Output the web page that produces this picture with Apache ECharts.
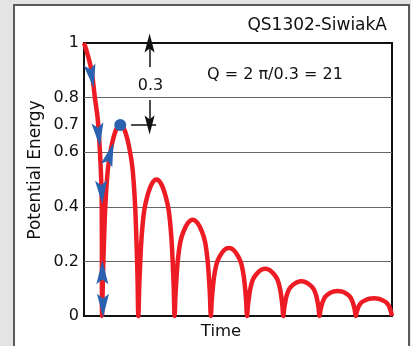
<!DOCTYPE html>
<html>
<head>
<meta charset="utf-8">
<script src="https://cdn.jsdelivr.net/npm/echarts@6/dist/echarts.min.js"></script>
<style>
html, body { margin: 0; padding: 0; background: #e4e4e4; overflow: hidden; }
#panel { position: absolute; left: 13px; top: 4px; width: 393px; height: 360px; background: #fff; border: 2px solid #5a5a5a; }
#chart { position: absolute; left: 0; top: 0; width: 411px; height: 346px; }
</style>
</head>
<body>
<div id="panel"></div>
<div id="chart"></div>
<script>
// time along x, potential energy along y, one row per bounce
var time = [
	0, 0.1, 0.21, 0.3, 0.38, 0.44, 0.475, 0.49, 0.5,
	0.525, 0.55, 0.59, 0.66, 0.75, 0.875, 1, 1.125, 1.25, 1.34, 1.41, 1.45, 1.475, 1.5,
	1.525, 1.55, 1.59, 1.66, 1.75, 1.875, 2, 2.125, 2.25, 2.34, 2.41, 2.45, 2.475, 2.5,
	2.525, 2.55, 2.59, 2.66, 2.75, 2.875, 3, 3.125, 3.25, 3.34, 3.41, 3.45, 3.475, 3.5,
	3.525, 3.55, 3.59, 3.66, 3.75, 3.875, 4, 4.125, 4.25, 4.34, 4.41, 4.45, 4.475, 4.5,
	4.525, 4.55, 4.59, 4.66, 4.75, 4.875, 5, 5.125, 5.25, 5.34, 5.41, 5.45, 5.475, 5.5,
	5.525, 5.55, 5.59, 5.66, 5.75, 5.875, 6, 6.125, 6.25, 6.34, 6.41, 6.45, 6.475, 6.5,
	6.525, 6.55, 6.59, 6.66, 6.75, 6.875, 7, 7.125, 7.25, 7.34, 7.41, 7.45, 7.475, 7.5,
	7.525, 7.55, 7.59, 7.66, 7.75, 7.875, 8, 8.125, 8.25, 8.34, 8.41, 8.45, 8.475, 8.5
];
var energy = [
	1, 0.958, 0.897, 0.8, 0.72, 0.6, 0.5, 0.4, 0,
	0.154, 0.266, 0.406, 0.539, 0.616, 0.679, 0.7, 0.679, 0.616, 0.539, 0.406, 0.266, 0.154, 0,
	0.11, 0.19, 0.29, 0.385, 0.44, 0.485, 0.5, 0.485, 0.44, 0.385, 0.29, 0.19, 0.11, 0,
	0.078, 0.134, 0.205, 0.272, 0.311, 0.342, 0.353, 0.342, 0.311, 0.272, 0.205, 0.134, 0.078, 0,
	0.055, 0.095, 0.144, 0.192, 0.219, 0.242, 0.249, 0.242, 0.219, 0.192, 0.144, 0.095, 0.055, 0,
	0.038, 0.066, 0.1, 0.133, 0.152, 0.168, 0.173, 0.168, 0.152, 0.133, 0.1, 0.066, 0.038, 0,
	0.028, 0.048, 0.074, 0.098, 0.112, 0.123, 0.127, 0.123, 0.112, 0.098, 0.074, 0.048, 0.028, 0,
	0.02, 0.035, 0.053, 0.071, 0.081, 0.089, 0.092, 0.089, 0.081, 0.071, 0.053, 0.035, 0.02, 0,
	0.014, 0.025, 0.038, 0.05, 0.057, 0.063, 0.065, 0.063, 0.057, 0.05, 0.038, 0.025, 0.014, 0
];

// blue direction arrows on the first bounce
var arrowT = [0.21, 0.405, 0.718, 0.488, 0.506, 0.524];
var arrowE = [0.878, 0.664, 0.593, 0.453, 0.16, 0.038];
var arrowAngle = [190, 186, -17, 183, 0, 180];
var peakDot = [1, 0.7];

// 0.3 dimension marker
var dimT = 1.81;
var dimTop = [0.912, 1];
var dimBottom = [0.791, 0.7];
var dimTick = [1.3, 1.99];

var yLabels = [0, 0.2, 0.4, 0.6, 0.7, 0.8, 1];
var gridValues = [0.2, 0.4, 0.6, 0.8];

var FONT = 'DejaVu Sans';
var ARROW = 'path://M5,0L10,22L5,17.5L0,22Z';

var curve = [];
for (var i = 0; i < time.length; i++) {
	curve.push([time[i], energy[i]]);
}
var arrows = [];
for (var j = 0; j < arrowT.length; j++) {
	arrows.push({ value: [arrowT[j], arrowE[j]], symbolRotate: arrowAngle[j] });
}
var splitColors = [];
for (var k = 0; k <= 10; k++) {
	splitColors.push(gridValues.indexOf(k / 10) >= 0 ? '#666' : 'rgba(0,0,0,0)');
}

var option = {
	animation: false,
	grid: {
		left: 84, right: 19, top: 43, bottom: 30,
		show: true,
		borderColor: '#111',
		borderWidth: 2,
		backgroundColor: 'rgba(0,0,0,0)'
	},
	xAxis: {
		type: 'value', min: 0, max: 8.5,
		axisLine: { show: false },
		axisTick: { show: false },
		axisLabel: { show: false },
		splitLine: { show: false }
	},
	yAxis: {
		type: 'value', min: 0, max: 1, interval: 0.1,
		axisLine: { show: false },
		axisTick: { show: false },
		axisLabel: {
			margin: 5,
			fontSize: 16,
			fontFamily: FONT,
			color: '#111',
			formatter: function (v) {
				var r = Math.round(v * 10) / 10;
				return yLabels.indexOf(r) >= 0 ? String(r) : '';
			}
		},
		splitLine: { show: true, lineStyle: { color: splitColors, width: 1 } }
	},
	series: [
		{
			type: 'line',
			data: curve,
			showSymbol: false,
			smooth: 0.35,
			clip: false,
			z: 3,
			lineStyle: { color: '#ed1c24', width: 4.5 }
		},
		{
			type: 'scatter',
			data: arrows,
			symbol: ARROW,
			symbolSize: [12, 24],
			z: 5,
			itemStyle: { color: '#2a62b0', opacity: 1 }
		},
		{
			type: 'scatter',
			data: [peakDot],
			symbol: 'circle',
			symbolSize: 12,
			z: 5,
			itemStyle: { color: '#2a62b0', opacity: 1 },
			markLine: {
				silent: true,
				symbol: ['none', ARROW],
				symbolSize: [10, 19],
				label: { show: false },
				lineStyle: { color: '#111', width: 1.5, type: 'solid' },
				data: [
					[{ coord: [dimT, dimTop[0]] }, { coord: [dimT, dimTop[1]] }],
					[{ coord: [dimT, dimBottom[0]] }, { coord: [dimT, dimBottom[1]] }],
					[{ coord: [dimTick[0], 0.7], symbol: 'none' }, { coord: [dimTick[1], 0.7], symbol: 'none' }]
				]
			}
		}
	],
	graphic: [
		{ type: 'text', x: 387, y: 26, style: { text: 'QS1302-SiwiakA', font: '17px "DejaVu Sans"', fill: '#111', align: 'right', verticalAlign: 'middle' } },
		{ type: 'text', x: 207, y: 75, style: { text: 'Q = 2 \u03c0/0.3 = 21', font: '16px "DejaVu Sans"', fill: '#111', align: 'left', verticalAlign: 'middle' } },
		{ type: 'text', x: 150.5, y: 86, style: { text: '0.3', font: '16px "DejaVu Sans"', fill: '#111', align: 'center', verticalAlign: 'middle' } },
		{ type: 'text', x: 221, y: 331.5, style: { text: 'Time', font: '16.5px "DejaVu Sans"', fill: '#111', align: 'center', verticalAlign: 'middle' } },
		{ type: 'text', x: 35.5, y: 170, rotation: Math.PI / 2, style: { text: 'Potential Energy', font: '17px "DejaVu Sans"', fill: '#111', align: 'center', verticalAlign: 'middle' } }
	]
};

var myChart = echarts.init(document.getElementById('chart'));
myChart.setOption(option);
</script>
</body>
</html>
